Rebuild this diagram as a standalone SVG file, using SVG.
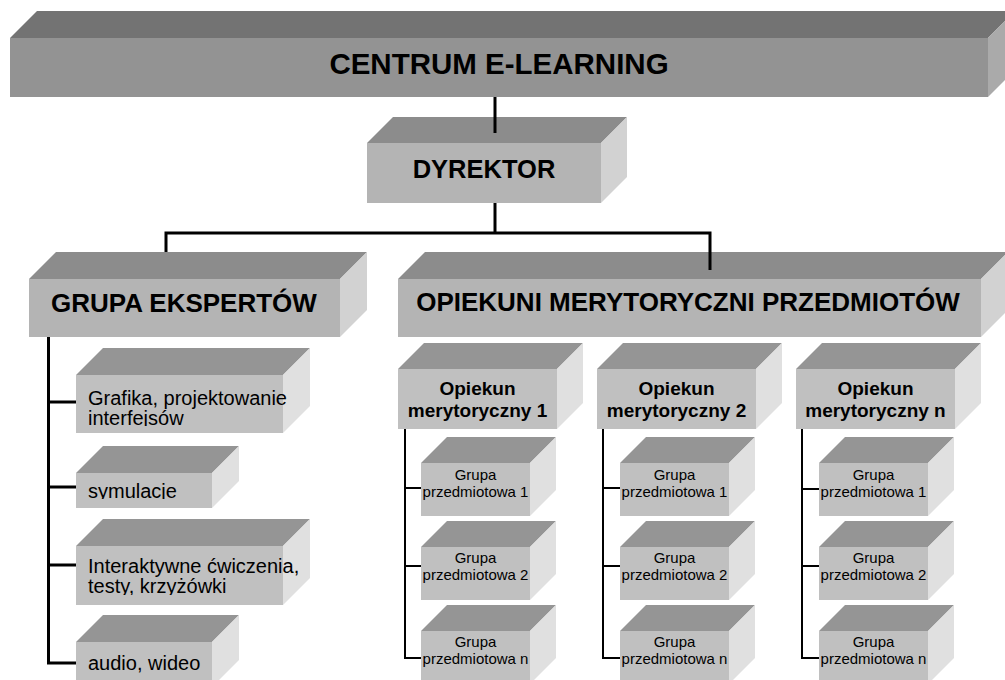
<svg xmlns="http://www.w3.org/2000/svg" xmlns:xlink="http://www.w3.org/1999/xlink" width="1005" height="680" viewBox="0 0 1005 680">
<style>
.b-top{fill:#737373}.b-front{fill:#939393}.b-side{fill:#aaaaaa}
.m-top{fill:#8c8c8c}.m-front{fill:#b4b4b4}.m-side{fill:#d2d2d2}
.s-top{fill:#959595}.s-front{fill:#c0c0c0}.s-side{fill:#e0e0e0}
text{font-family:"Liberation Sans",Arial,sans-serif;fill:#000}
.h{font-weight:bold;text-anchor:middle}
.op{font-weight:bold;font-size:19px;text-anchor:middle}
.ex{font-size:20px}
.gp{font-size:15px;text-anchor:middle}
.ln{stroke:#000;stroke-width:3;fill:none}
.ln2{stroke:#000;stroke-width:2;fill:none}
</style>
<defs>
<g id="op-shape">
<polygon class="s-top" points="0,26 26,0 185,0 159,26"/>
<polygon class="s-side" points="159,26 185,0 185,60 159,86"/>
<rect class="s-front" x="0" y="26" width="159" height="60"/>
</g>
<g id="gp-shape">
<polygon class="s-top" points="0,26 26,0 135,0 109,26"/>
<polygon class="s-side" points="109,26 135,0 135,53 109,79"/>
<rect class="s-front" x="0" y="26" width="109" height="53"/>
</g>
<clipPath id="c-grafika"><rect x="76" y="375" width="240" height="51"/></clipPath>
<clipPath id="c-sym"><rect x="76" y="473" width="160" height="26"/></clipPath>
<clipPath id="c-inter"><rect x="76" y="546" width="240" height="49"/></clipPath>
</defs>

<g id="centrum">
<polygon class="b-top" points="10,38 37,11 1015,11 988,38"/>
<polygon class="b-side" points="988,38 1015,11 1015,70 988,97"/>
<rect class="b-front" x="10" y="38" width="978" height="59"/>
<text class="h" x="499" y="74" font-size="29.5">CENTRUM E-LEARNING</text>
</g>

<g id="dyrektor">
<polygon class="m-top" points="367,143 393,117 627,117 601,143"/>
<polygon class="m-side" points="601,143 627,117 627,177 601,203"/>
<rect class="m-front" x="367" y="143" width="234" height="60"/>
<text class="h" x="484" y="178" font-size="25.5">DYREKTOR</text>
</g>

<g id="grupa-ekspertow">
<polygon class="m-top" points="29,279 56,252 367,252 340,279"/>
<polygon class="m-side" points="340,279 367,252 367,310 340,337"/>
<rect class="m-front" x="29" y="279" width="311" height="58"/>
<text class="h" x="184" y="312" font-size="26">GRUPA EKSPERTÓW</text>
</g>

<g id="opiekuni">
<polygon class="m-top" points="398,279 425,252 1008,252 981,279"/>
<polygon class="m-side" points="981,279 1008,252 1008,310 981,337"/>
<rect class="m-front" x="398" y="279" width="583" height="58"/>
<text class="h" x="688" y="311" font-size="26">OPIEKUNI MERYTORYCZNI PRZEDMIOTÓW</text>
</g>

<g id="grafika">
<polygon class="s-top" points="76,375 103,348 310,348 283,375"/>
<polygon class="s-side" points="283,375 310,348 310,406 283,433"/>
<rect class="s-front" x="76" y="375" width="207" height="58"/>
<text class="ex" x="88" y="405" clip-path="url(#c-grafika)">Grafika, projektowanie</text>
<text class="ex" x="88" y="425" clip-path="url(#c-grafika)">interfejsów</text>
</g>

<g id="symulacje">
<polygon class="s-top" points="76,473 103,446 239,446 212,473"/>
<polygon class="s-side" points="212,473 239,446 239,481 212,508"/>
<rect class="s-front" x="76" y="473" width="136" height="35"/>
<text class="ex" x="88" y="498" clip-path="url(#c-sym)">symulacje</text>
</g>

<g id="interaktywne">
<polygon class="s-top" points="76,546 103,519 310,519 283,546"/>
<polygon class="s-side" points="283,546 310,519 310,578 283,605"/>
<rect class="s-front" x="76" y="546" width="207" height="59"/>
<text class="ex" x="88" y="573" clip-path="url(#c-inter)">Interaktywne ćwiczenia,</text>
<text class="ex" x="88" y="593" clip-path="url(#c-inter)">testy, krzyżówki</text>
</g>

<g id="audio">
<polygon class="s-top" points="76,642 103,615 239,615 212,642"/>
<polygon class="s-side" points="212,642 239,615 239,660 212,687"/>
<rect class="s-front" x="76" y="642" width="136" height="45"/>
<text class="ex" x="88" y="670">audio, wideo</text>
</g>

<g id="opiekun-1">
<use xlink:href="#op-shape" x="398" y="343"/>
<text class="op" x="477.5" y="395">Opiekun</text>
<text class="op" x="477.5" y="417">merytoryczny 1</text>
</g>
<g id="opiekun-2">
<use xlink:href="#op-shape" x="597" y="343"/>
<text class="op" x="676.5" y="395">Opiekun</text>
<text class="op" x="676.5" y="417">merytoryczny 2</text>
</g>
<g id="opiekun-n">
<use xlink:href="#op-shape" x="796" y="343"/>
<text class="op" x="875.5" y="395">Opiekun</text>
<text class="op" x="875.5" y="417">merytoryczny n</text>
</g>

<g id="gp-1-1"><use xlink:href="#gp-shape" x="421" y="437"/><text class="gp" x="475.5" y="480">Grupa</text><text class="gp" x="475.5" y="497">przedmiotowa 1</text></g>
<g id="gp-1-2"><use xlink:href="#gp-shape" x="421" y="521"/><text class="gp" x="475.5" y="563">Grupa</text><text class="gp" x="475.5" y="580">przedmiotowa 2</text></g>
<g id="gp-1-n"><use xlink:href="#gp-shape" x="421" y="605"/><text class="gp" x="475.5" y="647">Grupa</text><text class="gp" x="475.5" y="664">przedmiotowa n</text></g>

<g id="gp-2-1"><use xlink:href="#gp-shape" x="620" y="437"/><text class="gp" x="674.5" y="480">Grupa</text><text class="gp" x="674.5" y="497">przedmiotowa 1</text></g>
<g id="gp-2-2"><use xlink:href="#gp-shape" x="620" y="521"/><text class="gp" x="674.5" y="563">Grupa</text><text class="gp" x="674.5" y="580">przedmiotowa 2</text></g>
<g id="gp-2-n"><use xlink:href="#gp-shape" x="620" y="605"/><text class="gp" x="674.5" y="647">Grupa</text><text class="gp" x="674.5" y="664">przedmiotowa n</text></g>

<g id="gp-3-1"><use xlink:href="#gp-shape" x="819" y="437"/><text class="gp" x="873.5" y="480">Grupa</text><text class="gp" x="873.5" y="497">przedmiotowa 1</text></g>
<g id="gp-3-2"><use xlink:href="#gp-shape" x="819" y="521"/><text class="gp" x="873.5" y="563">Grupa</text><text class="gp" x="873.5" y="580">przedmiotowa 2</text></g>
<g id="gp-3-n"><use xlink:href="#gp-shape" x="819" y="605"/><text class="gp" x="873.5" y="647">Grupa</text><text class="gp" x="873.5" y="664">przedmiotowa n</text></g>

<g id="connectors">
<line class="ln" x1="495" y1="97" x2="495" y2="133"/>
<line class="ln" x1="495" y1="203" x2="495" y2="233"/>
<polyline class="ln" points="166,252 166,233 710,233 710,270"/>
<polyline class="ln" points="48.5,337 48.5,663 76,663"/>
<line class="ln" x1="48.5" y1="402" x2="76" y2="402"/>
<line class="ln" x1="48.5" y1="487" x2="76" y2="487"/>
<line class="ln" x1="48.5" y1="565" x2="76" y2="565"/>
<polyline class="ln2" points="405,429 405,658 421,658"/>
<line class="ln2" x1="405" y1="488" x2="421" y2="488"/>
<line class="ln2" x1="405" y1="566" x2="421" y2="566"/>
<polyline class="ln2" points="603,429 603,658 620,658"/>
<line class="ln2" x1="603" y1="488" x2="620" y2="488"/>
<line class="ln2" x1="603" y1="566" x2="620" y2="566"/>
<polyline class="ln2" points="802,429 802,658 819,658"/>
<line class="ln2" x1="802" y1="489" x2="819" y2="489"/>
<line class="ln2" x1="802" y1="566" x2="819" y2="566"/>
</g>
</svg>
